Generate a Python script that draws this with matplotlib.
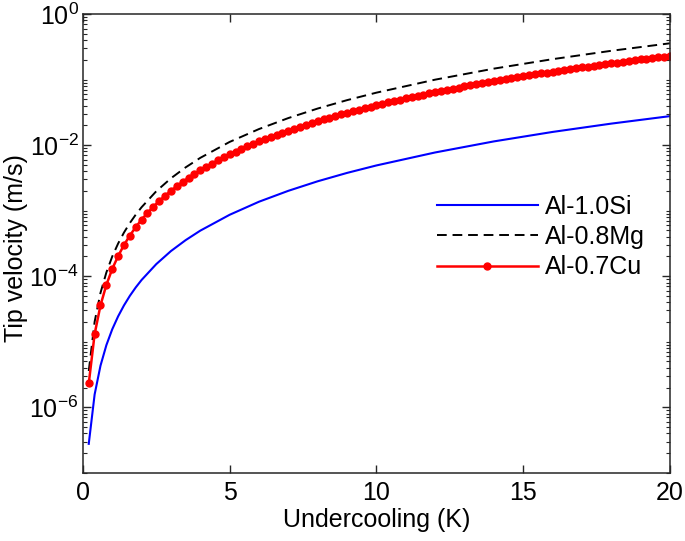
import numpy as np
import matplotlib.pyplot as plt

plt.rcParams['font.family'] = ['Liberation Sans', 'DejaVu Sans']

# undercooling (K) and tip velocity (m/s)
x_cu = [0.2, 0.4, 0.6, 0.8, 1.0, 1.2, 1.4, 1.6, 1.8, 2.0,
        2.2, 2.4, 2.6, 2.8, 3.0, 3.2, 3.4, 3.6, 3.8, 4.0,
        4.2, 4.4, 4.6, 4.8, 5.0, 5.2, 5.4, 5.6, 5.8, 6.0,
        6.2, 6.4, 6.6, 6.8, 7.0, 7.2, 7.4, 7.6, 7.8, 8.0,
        8.2, 8.4, 8.6, 8.8, 9.0, 9.2, 9.4, 9.6, 9.8, 10.0,
        10.2, 10.4, 10.6, 10.8, 11.0, 11.2, 11.4, 11.6, 11.8, 12.0,
        12.2, 12.4, 12.6, 12.8, 13.0, 13.2, 13.4, 13.6, 13.8, 14.0,
        14.2, 14.4, 14.6, 14.8, 15.0, 15.2, 15.4, 15.6, 15.8, 16.0,
        16.2, 16.4, 16.6, 16.8, 17.0, 17.2, 17.4, 17.6, 17.8, 18.0,
        18.2, 18.4, 18.6, 18.8, 19.0, 19.2, 19.4, 19.6, 19.8, 20.0]
v_cu = [2.31e-6, 1.31e-5, 3.60e-5, 7.38e-5, 1.29e-4, 2.03e-4, 2.99e-4, 4.18e-4, 5.61e-4, 7.30e-4,
        9.26e-4, 1.151e-3, 1.406e-3, 1.692e-3, 2.011e-3, 2.363e-3, 2.750e-3, 3.172e-3, 3.631e-3, 4.128e-3,
        4.663e-3, 5.239e-3, 5.855e-3, 6.512e-3, 7.211e-3, 7.954e-3, 8.741e-3, 9.573e-3, 1.045e-2, 1.138e-2,
        1.235e-2, 1.337e-2, 1.444e-2, 1.556e-2, 1.672e-2, 1.794e-2, 1.922e-2, 2.054e-2, 2.192e-2, 2.335e-2,
        2.484e-2, 2.638e-2, 2.798e-2, 2.964e-2, 3.135e-2, 3.312e-2, 3.495e-2, 3.684e-2, 3.878e-2, 4.079e-2,
        4.286e-2, 4.500e-2, 4.719e-2, 4.945e-2, 5.177e-2, 5.415e-2, 5.661e-2, 5.912e-2, 6.170e-2, 6.435e-2,
        6.706e-2, 6.985e-2, 7.270e-2, 7.562e-2, 7.860e-2, 8.166e-2, 8.479e-2, 8.799e-2, 9.126e-2, 9.460e-2,
        9.802e-2, 0.1015, 0.1051, 0.1087, 0.1124, 0.1162, 0.1201, 0.1240, 0.1280, 0.1321,
        0.1363, 0.1405, 0.1448, 0.1492, 0.1537, 0.1583, 0.1629, 0.1676, 0.1724, 0.1773,
        0.1823, 0.1873, 0.1925, 0.1977, 0.2030, 0.2084, 0.2138, 0.2194, 0.2250, 0.2308]

x_si_mg = [0.2, 0.4, 0.6, 0.8, 1.0, 1.2, 1.4, 1.6, 1.8, 2.0, 2.5, 3.0, 3.5, 4.0,
           5.0, 6.0, 7.0, 8.0, 9.0, 10.0, 12.0, 14.0, 16.0, 18.0, 20.0]
v_si = [2.77e-7, 1.57e-6, 4.32e-6, 8.87e-6, 1.55e-5, 2.44e-5, 3.59e-5, 5.02e-5, 6.74e-5, 8.77e-5,
        1.53e-4, 2.42e-4, 3.55e-4, 4.96e-4, 8.66e-4, 1.37e-3, 2.01e-3, 2.81e-3, 3.77e-3, 4.90e-3,
        7.73e-3, 1.14e-2, 1.59e-2, 2.13e-2, 2.77e-2]
v_mg = [3.58e-6, 2.02e-5, 5.58e-5, 1.14e-4, 2.00e-4, 3.15e-4, 4.64e-4, 6.48e-4, 8.69e-4, 1.13e-3,
        1.98e-3, 3.12e-3, 4.58e-3, 6.40e-3, 1.12e-2, 1.76e-2, 2.59e-2, 3.62e-2, 4.86e-2, 6.32e-2,
        9.98e-2, 0.147, 0.205, 0.275, 0.358]

labels = ['Al-1.0Si', 'Al-0.8Mg', 'Al-0.7Cu']

fs = 18

fig = plt.figure(figsize=(6.85, 5.41), dpi=100)
ax = fig.add_axes([0.121, 0.126, 0.857, 0.848])

ax.plot(x_si_mg, v_si, color='#0000ff', linewidth=1.5, label=labels[0])
ax.plot(x_si_mg, v_mg, color='black', linewidth=1.4, linestyle=(0, (5, 3)), label=labels[1])
ax.plot(x_cu, v_cu, color='#ff0000', linewidth=1.8, marker='o', markersize=5,
        label=labels[2])

ax.set_yscale('log')
ax.set_xlim(0, 20)
ax.set_ylim(1e-7, 1e0)
ax.set_xticks([0, 5, 10, 15, 20])
ax.set_yticks([1e-6, 1e-4, 1e-2, 1e0])
minor = [m * 10.0 ** e for e in range(-7, 0) for m in range(1, 10)]
ax.set_yticks(minor, minor=True)
ax.yaxis.set_minor_formatter(plt.NullFormatter())

ax.tick_params(which='both', direction='in', top=True, right=True,
               labelsize=fs, colors='#262626', labelcolor='black')
ax.tick_params(which='major', length=6, width=1)
ax.tick_params(axis='x', which='major', pad=6)
ax.tick_params(axis='y', which='major', pad=3)
ax.tick_params(which='minor', length=3, width=0.8)
for s in ax.spines.values():
    s.set_color('#262626')
    s.set_linewidth(1.1)

ax.set_xlabel('Undercooling (K)', fontsize=fs, labelpad=2)
ax.set_ylabel('Tip velocity (m/s)', fontsize=fs)
ax.yaxis.set_label_coords(-0.093, 0.49)

leg = ax.legend(loc='center left', bbox_to_anchor=(0.603, 0.514), frameon=False,
                fontsize=fs, handlelength=4.05, handletextpad=0.27, labelspacing=0.25,
                numpoints=1, borderpad=0, borderaxespad=0)

fig.savefig('out.png', dpi=100)
